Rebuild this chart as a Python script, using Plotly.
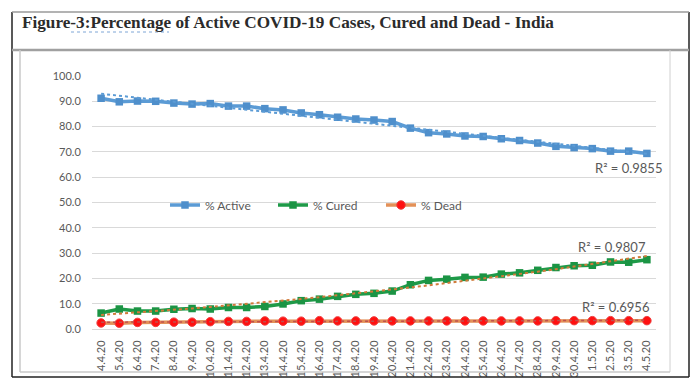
import numpy as np
import plotly.graph_objects as go

dates = ["4.4.20", "5.4.20", "6.4.20", "7.4.20", "8.4.20", "9.4.20", "10.4.20", "11.4.20",
         "12.4.20", "13.4.20", "14.4.20", "15.4.20", "16.4.20", "17.4.20", "18.4.20", "19.4.20",
         "20.4.20", "21.4.20", "22.4.20", "23.4.20", "24.4.20", "25.4.20", "26.4.20", "27.4.20",
         "28.4.20", "29.4.20", "30.4.20", "1.5.20", "2.5.20", "3.5.20", "4.5.20"]
active = [91.2, 89.8, 90.1, 90.0, 89.3, 88.9, 89.1, 88.1, 88.1, 87.1, 86.6, 85.4, 84.7, 83.7,
          83.0, 82.6, 82.0, 79.4, 77.6, 77.1, 76.3, 76.1, 75.2, 74.5, 73.5, 72.2, 71.7, 71.3,
          70.3, 70.3, 69.4]
cured = [6.3, 7.9, 7.1, 7.1, 7.8, 8.1, 7.9, 8.5, 8.5, 8.9, 9.9, 11.2, 11.8, 12.9,
         13.7, 14.1, 15.0, 17.5, 19.2, 19.7, 20.4, 20.5, 21.7, 22.2, 23.2, 24.3, 25.0, 25.2,
         26.5, 26.4, 27.4]
dead = [2.4, 2.3, 2.6, 2.6, 2.7, 2.7, 2.9, 3.0, 3.0, 3.2, 3.1, 3.1, 3.3, 3.2,
        3.2, 3.2, 3.2, 3.2, 3.2, 3.2, 3.2, 3.2, 3.2, 3.2, 3.2, 3.3, 3.3, 3.3,
        3.3, 3.3, 3.3]
r2_labels = ["R² = 0.9855", "R² = 0.9807", "R² = 0.6956"]
title_text = "Figure-3:Percentage of Active COVID-19 Cases, Cured and Dead - India"

W, H = 700, 389
L, R, T, B = 92, 44, 76, 60
PW, PH = W - L - R, H - T - B


def xp(px):
    return (px - L) / PW


def yp(py):
    return (H - B - py) / PH


idx = np.arange(len(dates))
fit_a = np.polyval(np.polyfit(idx, active, 1), idx)
fit_c = np.polyval(np.polyfit(idx, cured, 2), idx)
fit_d = np.polyval(np.polyfit(idx, dead, 1), idx)

fig = go.Figure()
fig.add_trace(go.Scatter(x=dates, y=active, name="% Active", mode="lines+markers",
                         line=dict(color="#5B9BD5", width=3.5),
                         marker=dict(symbol="square", size=7.5, color="#4F8FCB")))
fig.add_trace(go.Scatter(x=dates, y=cured, name="% Cured", mode="lines+markers",
                         line=dict(color="#1E9A48", width=3.5),
                         marker=dict(symbol="square", size=7.5, color="#1B9444")))
fig.add_trace(go.Scatter(x=dates, y=dead, name="% Dead", mode="lines+markers",
                         line=dict(color="#E39158", width=3.5),
                         marker=dict(symbol="circle", size=8.5, color="#FF1010",
                                     line=dict(color="#F04040", width=1))))
fig.add_trace(go.Scatter(x=dates, y=fit_a, mode="lines", showlegend=False, hoverinfo="skip",
                         line=dict(color="#5B9BD5", width=2, dash="dot")))
fig.add_trace(go.Scatter(x=dates, y=fit_c, mode="lines", showlegend=False, hoverinfo="skip",
                         line=dict(color="#D07A3A", width=2, dash="dot")))
fig.add_trace(go.Scatter(x=dates, y=fit_d, mode="lines", showlegend=False, hoverinfo="skip",
                         line=dict(color="#C0504D", width=1.5, dash="dot")))

shapes = []
line_black = dict(color="#222222", width=1.5)
# outer box
shapes.append(dict(type="line", xref="paper", yref="paper", x0=xp(12), x1=xp(12), y0=yp(12), y1=yp(377), line=line_black))
shapes.append(dict(type="line", xref="paper", yref="paper", x0=xp(689), x1=xp(689), y0=yp(12), y1=yp(377), line=line_black))
shapes.append(dict(type="line", xref="paper", yref="paper", x0=xp(12), x1=xp(689), y0=yp(377), y1=yp(377), line=line_black))
shapes.append(dict(type="line", xref="paper", yref="paper", x0=xp(12), x1=xp(689), y0=yp(12), y1=yp(12), line=dict(color="#9A9A9A", width=1.5)))
# separator under title
shapes.append(dict(type="line", xref="paper", yref="paper", x0=xp(12), x1=xp(689), y0=yp(50), y1=yp(50), line=dict(color="#A0A0A0", width=2.5)))
# inner chart box
shapes.append(dict(type="line", xref="paper", yref="paper", x0=xp(20), x1=xp(20), y0=yp(50), y1=yp(372), line=dict(color="#C8C8C8", width=1.5)))
shapes.append(dict(type="line", xref="paper", yref="paper", x0=xp(670), x1=xp(670), y0=yp(50), y1=yp(372), line=dict(color="#D0D0D0", width=1)))
shapes.append(dict(type="line", xref="paper", yref="paper", x0=xp(20), x1=xp(670), y0=yp(372), y1=yp(372), line=dict(color="#C8C8C8", width=1.5)))
# spell-check squiggle under title word
shapes.append(dict(type="line", xref="paper", yref="paper", x0=xp(71), x1=xp(169), y0=yp(32), y1=yp(32), line=dict(color="#7FA6D6", width=1, dash="dot")))

r2_font = dict(family="Lato", size=13, color="#595959")
annotations = [
    dict(text="<b>" + title_text + "</b>", xref="paper", yref="paper", x=xp(20), y=yp(22.5),
         xanchor="left", yanchor="middle", showarrow=False,
         font=dict(family="Liberation Serif", size=17.2, color="#2B2B2B")),
    dict(text=r2_labels[0], xref="paper", yref="paper", x=xp(628), y=yp(168), showarrow=False,
         xanchor="center", yanchor="middle", font=r2_font),
    dict(text=r2_labels[1], xref="paper", yref="paper", x=xp(612), y=yp(247), showarrow=False,
         xanchor="center", yanchor="middle", font=r2_font),
    dict(text=r2_labels[2], xref="paper", yref="paper", x=xp(615), y=yp(307), showarrow=False,
         xanchor="center", yanchor="middle", font=r2_font),
]

fig.update_layout(
    width=W, height=H,
    margin=dict(l=L, r=R, t=T, b=B, pad=0),
    paper_bgcolor="white", plot_bgcolor="white",
    shapes=shapes, annotations=annotations,
    showlegend=True,
    legend=dict(orientation="h", x=xp(165), y=yp(205), xanchor="left", yanchor="middle",
                bgcolor="rgba(0,0,0,0)", font=dict(family="Lato", size=12, color="#595959"),
                entrywidth=63, entrywidthmode="pixels", itemwidth=30),
    xaxis=dict(type="category", range=[-0.5, len(dates) - 0.5], showgrid=False,
               tickangle=-90, tickfont=dict(family="Lato", size=11, color="#595959"),
               showline=True, linecolor="#D9D9D9", linewidth=1, ticks="outside", ticklen=6,
               tickcolor="rgba(0,0,0,0)", zeroline=False, fixedrange=True),
    yaxis=dict(range=[0, 100], dtick=10, tickformat=".1f", showgrid=True, gridcolor="#D9D9D9",
               gridwidth=1, zeroline=False, showline=False, ticks="outside", ticklen=8,
               tickcolor="rgba(0,0,0,0)",
               tickfont=dict(family="Lato", size=11, color="#595959"), fixedrange=True),
)

fig.write_html("out.html", config={"displayModeBar": False},
               post_script="document.body.style.margin='0';document.body.style.overflow='hidden';")
